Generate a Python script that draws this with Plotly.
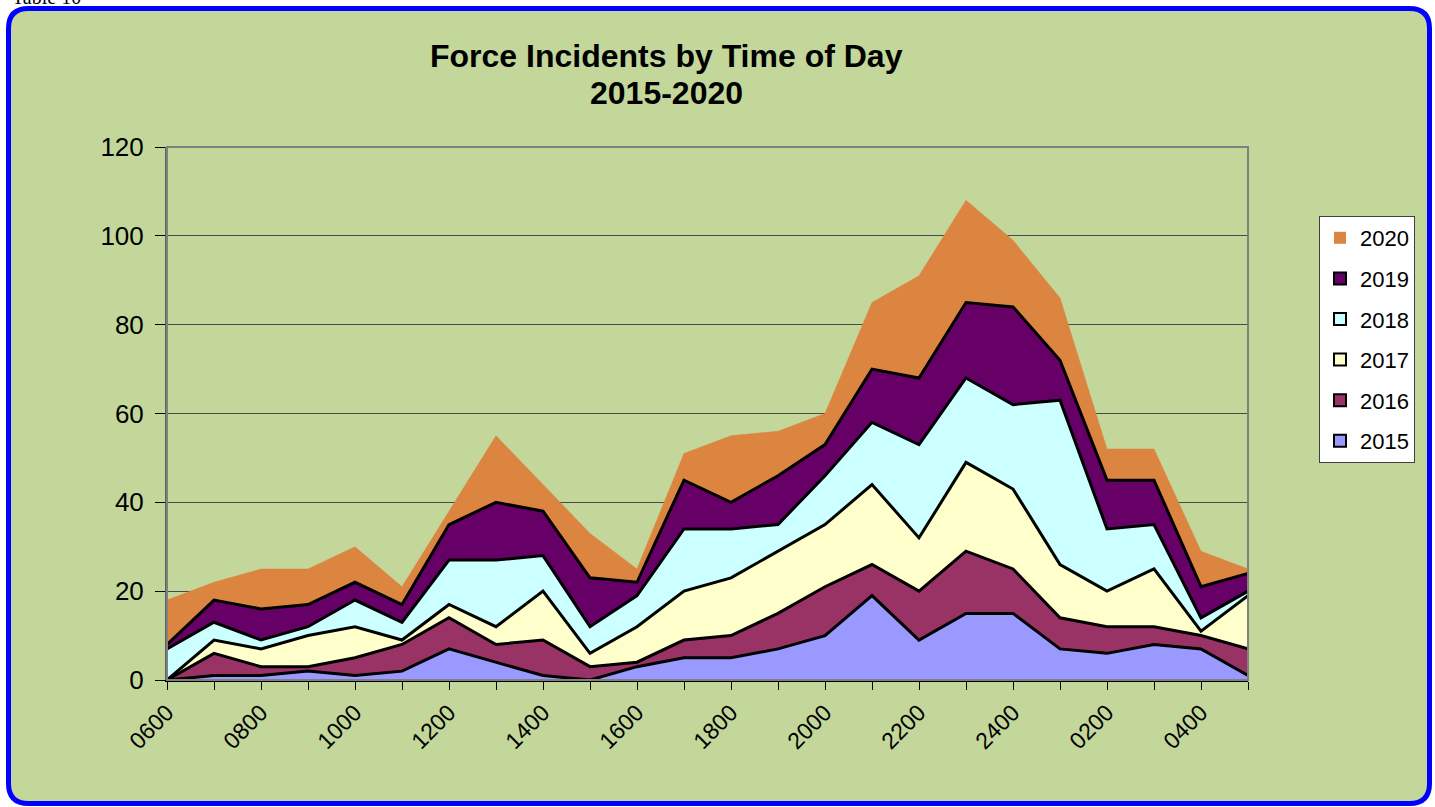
import plotly.graph_objects as go

categories = ["0600", "0700", "0800", "0900", "1000", "1100", "1200", "1300", "1400", "1500",
              "1600", "1700", "1800", "1900", "2000", "2100", "2200", "2300", "2400", "0100",
              "0200", "0300", "0400", "0500"]

y2015 = [0, 1, 1, 2, 1, 2, 7, 4, 1, 0, 3, 5, 5, 7, 10, 19, 9, 15, 15, 7, 6, 8, 7, 1]
y2016 = [0, 5, 2, 1, 4, 6, 7, 4, 8, 3, 1, 4, 5, 8, 11, 7, 11, 14, 10, 7, 6, 4, 3, 6]
y2017 = [0, 3, 4, 7, 7, 1, 3, 4, 11, 3, 8, 11, 13, 14, 14, 18, 12, 20, 18, 12, 8, 13, 1, 12]
y2018 = [7, 4, 2, 2, 6, 4, 10, 15, 8, 6, 7, 14, 11, 6, 11, 14, 21, 19, 19, 37, 14, 10, 3, 1]
y2019 = [1, 5, 7, 5, 4, 4, 8, 13, 10, 11, 3, 11, 6, 11, 7, 12, 15, 17, 22, 9, 11, 10, 7, 4]
y2020 = [10, 4, 9, 8, 8, 4, 3, 15, 6, 10, 3, 6, 15, 10, 7, 15, 23, 23, 15, 14, 7, 7, 8, 1]

series_names = ["2015", "2016", "2017", "2018", "2019", "2020"]
series_values = [y2015, y2016, y2017, y2018, y2019, y2020]
series_colors = ["#9999ff", "#993366", "#ffffcc", "#ccffff", "#660066", "#db8540"]
y_ticks = [0, 20, 40, 60, 80, 100, 120]
tick_text = [c if i % 2 == 0 else "" for i, c in enumerate(categories)]

W, H = 1435, 807
L, R, T, B = 167, 187, 147, 127
PW, PH = W - L - R, H - T - B
FONT = "Liberation Sans, Arial, sans-serif"

def px(x):
    return (x - L) / PW

def py(y):
    return (H - B - y) / PH

fig = go.Figure()
for name, vals, col in zip(series_names, series_values, series_colors):
    is_top = name == "2020"
    fig.add_trace(go.Scatter(
        x=categories, y=vals, name=name, mode="lines",
        stackgroup="one", fillcolor=col,
        line=dict(color=col if is_top else "#000000", width=0.5 if is_top else 3),
        showlegend=False, hoverinfo="x+y+name",
    ))

# legend-only entries with square swatches
for i, (name, col) in enumerate(zip(series_names, series_colors)):
    is_top = name == "2020"
    fig.add_trace(go.Scatter(
        x=[None], y=[None], name=name, mode="markers",
        marker=dict(symbol="square", size=12, color=col,
                    line=dict(color=col if is_top else "#000000", width=0 if is_top else 2)),
        legendrank=100 - i, legendgroup=name, showlegend=True,
    ))

# rounded green panel with blue border
x0, x1, y0, y1, r = 8.5, 1429.5, 8.5, 803.5, 20
pts = lambda x, y: f"{px(x):.5f},{py(y):.5f}"
path = (f"M {pts(x0 + r, y0)} L {pts(x1 - r, y0)} Q {pts(x1, y0)} {pts(x1, y0 + r)} "
        f"L {pts(x1, y1 - r)} Q {pts(x1, y1)} {pts(x1 - r, y1)} "
        f"L {pts(x0 + r, y1)} Q {pts(x0, y1)} {pts(x0, y1 - r)} "
        f"L {pts(x0, y0 + r)} Q {pts(x0, y0)} {pts(x0 + r, y0)} Z")

fig.update_layout(
    width=W, height=H, autosize=False,
    margin=dict(l=L, r=R, t=T, b=B, pad=0),
    paper_bgcolor="#ffffff", plot_bgcolor="#c0c0c0",
    font=dict(family=FONT, color="#000000"),
    showlegend=True,
    legend=dict(
        x=px(1319), y=py(216), xanchor="left", yanchor="top",
        bgcolor="#ffffff", bordercolor="#404040", borderwidth=1,
        font=dict(size=22, family=FONT),
        traceorder="grouped", tracegroupgap=9, itemwidth=30,
    ),
    shapes=[
        dict(type="path", xref="paper", yref="paper", path=path,
             fillcolor="#c4d79b", line=dict(color="#0000ff", width=5), layer="below"),
        dict(type="rect", xref="paper", yref="paper", x0=0, x1=1, y0=0, y1=1,
             line=dict(color="#808080", width=2), fillcolor="rgba(0,0,0,0)", layer="above"),
    ],
    annotations=[
        dict(text="<b>Force Incidents by Time of Day</b>", xref="paper", yref="paper",
             x=px(666), y=py(56), xanchor="center", yanchor="middle", showarrow=False,
             font=dict(size=32, family=FONT)),
        dict(text="<b>2015-2020</b>", xref="paper", yref="paper",
             x=px(666), y=py(93), xanchor="center", yanchor="middle", showarrow=False,
             font=dict(size=32, family=FONT)),
        dict(text="Table 10", xref="paper", yref="paper",
             x=px(10), y=py(-3), xanchor="left", yanchor="middle", showarrow=False,
             font=dict(size=20, family="Liberation Serif, Times New Roman, serif")),
    ],
)

fig.update_xaxes(
    type="category", range=[0, len(categories) - 1],
    tickmode="array", tickvals=categories, ticktext=tick_text,
    tickangle=-45, tickfont=dict(size=23),
    ticks="outside", ticklen=8, tickcolor="#000000", tickwidth=1,
    showline=True, linecolor="#000000", linewidth=2,
    showgrid=False, zeroline=False,
)
fig.update_yaxes(
    range=[0, 120], tickmode="array", tickvals=y_ticks,
    tickfont=dict(size=26), ticklabelstandoff=6,
    ticks="outside", ticklen=10, tickcolor="#000000", tickwidth=1,
    showline=True, linecolor="#606060", linewidth=2,
    showgrid=True, gridcolor="#4a4a4a", gridwidth=1.3, zeroline=False,
)

fig.write_html("out.html", config={"displayModeBar": False},
               post_script="document.body.style.margin='0';document.body.style.overflow='hidden';")
